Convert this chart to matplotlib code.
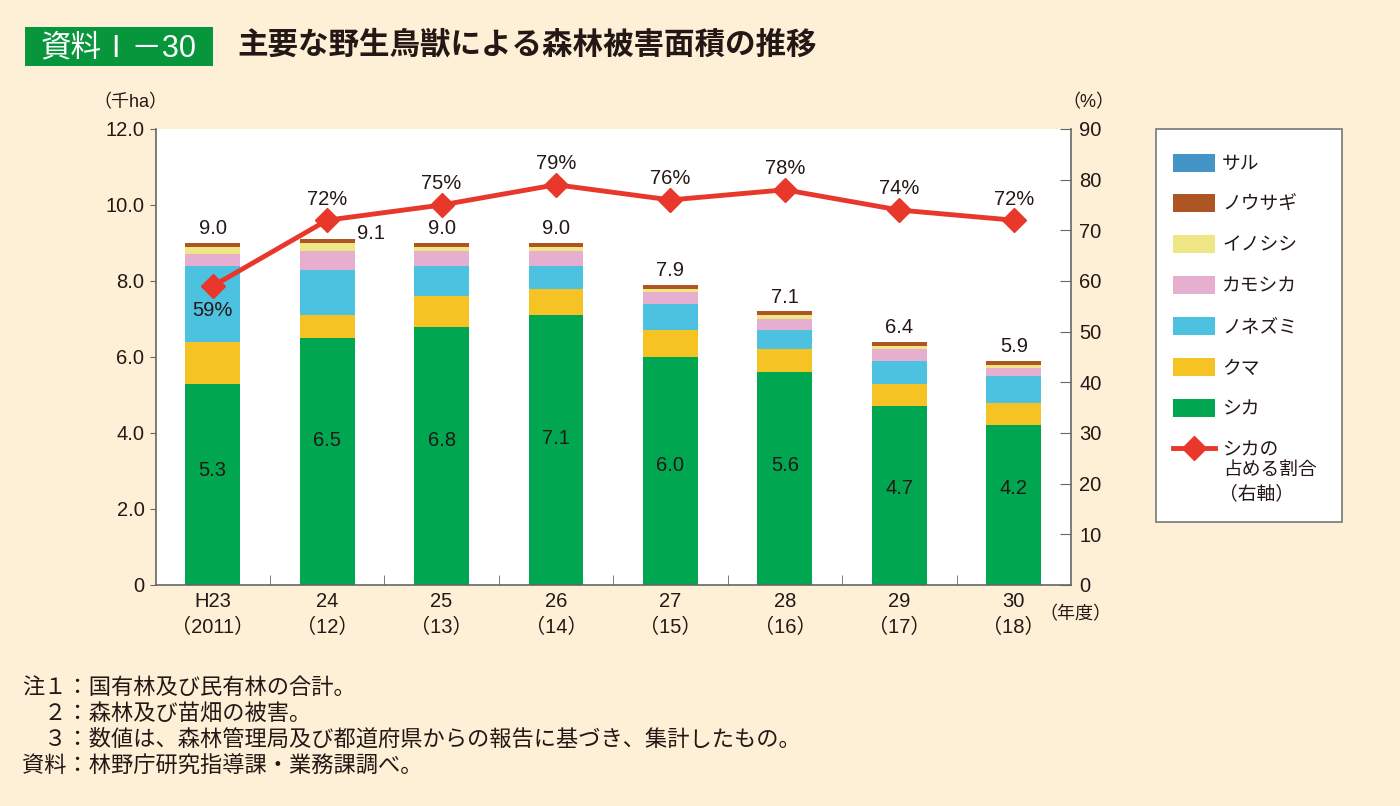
import numpy as np
import matplotlib
matplotlib.use("Agg")
import matplotlib.pyplot as plt
from matplotlib.patches import Patch, Rectangle
from matplotlib.lines import Line2D

plt.rcParams['font.family'] = ['Liberation Sans', 'Noto Sans CJK JP', 'DejaVu Sans']

# data (千ha)
years = ["H23\n（2011）", "24\n（12）", "25\n（13）", "26\n（14）",
         "27\n（15）", "28\n（16）", "29\n（17）", "30\n（18）"]
shika = [5.3, 6.5, 6.8, 7.1, 6.0, 5.6, 4.7, 4.2]
kuma = [1.1, 0.6, 0.8, 0.7, 0.7, 0.6, 0.6, 0.6]
nezumi = [2.0, 1.2, 0.8, 0.6, 0.7, 0.5, 0.6, 0.7]
kamoshika = [0.3, 0.5, 0.4, 0.4, 0.3, 0.3, 0.3, 0.2]
inoshishi = [0.2, 0.2, 0.1, 0.1, 0.1, 0.1, 0.1, 0.1]
usagi = [0.1, 0.1, 0.1, 0.1, 0.1, 0.1, 0.1, 0.1]
saru = [0.0, 0.0, 0.0, 0.0, 0.0, 0.0, 0.0, 0.0]
totals = ["9.0", "9.1", "9.0", "9.0", "7.9", "7.1", "6.4", "5.9"]
share = [59, 72, 75, 79, 76, 78, 74, 72]

# where the シカ value label sits inside each bar (千ha)
shika_label_y = [3.0, 3.8, 3.8, 3.85, 3.15, 3.15, 2.55, 2.55]

series = [("シカ", shika, "#00A650"), ("クマ", kuma, "#F6C324"),
          ("ノネズミ", nezumi, "#4CC1E0"), ("カモシカ", kamoshika, "#E6AFCF"),
          ("イノシシ", inoshishi, "#EFE685"), ("ノウサギ", usagi, "#AE5524"),
          ("サル", saru, "#4494C7")]

bg = "#FDF0D7"
txt = "#231815"
fs = 14.5
fig = plt.figure(figsize=(14, 8.06), dpi=100, facecolor=bg)
W, H = 1400, 806

def fx(p):
    return p / W

def fy(p):
    return 1 - p / H

ax = fig.add_axes([fx(155.5), fy(585), fx(1071) - fx(155.5), fy(129) - fy(585)])
ax.set_facecolor("white")
x = np.arange(len(years))
bottom = np.zeros(len(years))
for name, vals, col in series:
    ax.bar(x, vals, width=0.48, bottom=bottom, color=col, linewidth=0)
    bottom += np.array(vals)

ax.set_xlim(-0.5, 7.5)
ax.set_ylim(0, 12)
ax.set_yticks(np.arange(0, 12.1, 2))
ax.set_yticklabels(["0"] + [f"{v:.1f}" for v in np.arange(2, 12.1, 2)])
ax.set_xticks(x)
ax.set_xticklabels(years, fontsize=fs, color=txt, linespacing=1.45)
ax.set_xticks(np.arange(0.5, 7.5, 1), minor=True)
ax.tick_params(axis="x", which="major", length=0, pad=5)
ax.tick_params(axis="x", which="minor", direction="in", length=7, color="#666666")
ax.tick_params(axis="y", length=4, direction="out", labelsize=fs, labelcolor=txt, color="#666666", pad=4)
for s in ["top", "right"]:
    ax.spines[s].set_visible(False)
for s in ["left", "bottom"]:
    ax.spines[s].set_color("#666666")
    ax.spines[s].set_linewidth(1.2)

# シカ values and totals
for i in range(len(years)):
    ax.text(x[i], shika_label_y[i], f"{shika[i]:.1f}", ha="center", va="center", fontsize=fs, color=txt)
for i in range(len(years)):
    if i == 1:
        ax.text(x[i] + 0.26, bottom[i] + 0.14, totals[i], ha="left", va="center", fontsize=fs, color=txt)
    else:
        ax.text(x[i], bottom[i] + 0.12, totals[i], ha="center", va="bottom", fontsize=fs, color=txt)

ax2 = ax.twinx()
ax2.set_ylim(0, 90)
ax2.set_yticks(np.arange(0, 91, 10))
ax2.plot(x, share, color="#E8382C", lw=3.5, marker="D", markersize=12,
         markerfacecolor="#E8382C", markeredgecolor="#E8382C", zorder=5)
for i, v in enumerate(share):
    if i == 0:
        ax2.text(x[i], v - 4.8, f"{v}%", ha="center", va="center", fontsize=fs, color=txt)
    else:
        ax2.text(x[i], v + 2.3, f"{v}%", ha="center", va="bottom", fontsize=fs, color=txt)
ax2.tick_params(axis="y", direction="in", length=8, labelsize=fs, labelcolor=txt, color="#666666", pad=6)
for s in ["top", "left", "bottom"]:
    ax2.spines[s].set_visible(False)
ax2.spines["right"].set_color("#666666")
ax2.spines["right"].set_linewidth(1.2)

fig.text(fx(130), fy(103), "（千ha）", ha="center", va="center", fontsize=13, color=txt)
fig.text(fx(1088), fy(103), "（%）", ha="center", va="center", fontsize=13, color=txt)
fig.text(fx(1075), fy(615), "（年度）", ha="center", va="center", fontsize=13, color=txt)

# title
fig.patches.append(Rectangle((fx(25), fy(66)), fx(213) - fx(25), fy(27) - fy(66),
                             transform=fig.transFigure, facecolor="#08963C", edgecolor="none"))
fig.text(fx(119), fy(48), "資料Ⅰ－30", ha="center", va="center", fontsize=22, color="white")
fig.text(fx(237), fy(46), "主要な野生鳥獣による森林被害面積の推移", ha="left", va="center",
         fontsize=22, color=txt, fontweight="bold")

# legend box
fig.patches.append(Rectangle((fx(1156), fy(522)), fx(1342) - fx(1156), fy(129) - fy(522),
                             transform=fig.transFigure, facecolor="white", edgecolor="#777777", lw=1.2))
handles = [Patch(facecolor=c, edgecolor="none") for _, _, c in series[::-1]]
labels = [n for n, _, _ in series[::-1]]
handles.append(Line2D([], [], color="#E8382C", lw=3.5, marker="D", markersize=12))
labels.append("シカの")
leg = fig.legend(handles, labels, loc="upper left", bbox_to_anchor=(fx(1165), fy(146)),
                 frameon=False, fontsize=13.5, handlelength=2.25, handleheight=1.1,
                 handletextpad=0.4, labelspacing=1.15, borderaxespad=0)
for t in leg.get_texts():
    t.set_color(txt)
fig.text(fx(1223), fy(470), "占める割合", ha="left", va="center", fontsize=13.5, color=txt)
fig.text(fx(1219), fy(494), "（右軸）", ha="left", va="center", fontsize=13.5, color=txt)

notes = ["注１：国有林及び民有林の合計。",
         "　２：森林及び苗畑の被害。",
         "　３：数値は、森林管理局及び都道府県からの報告に基づき、集計したもの。",
         "資料：林野庁研究指導課・業務課調べ。"]
for k, n in enumerate(notes):
    fig.text(fx(22), fy(688 + k * 26), n, ha="left", va="center", fontsize=16, color=txt)

fig.savefig("out.png", dpi=100, facecolor=bg)
